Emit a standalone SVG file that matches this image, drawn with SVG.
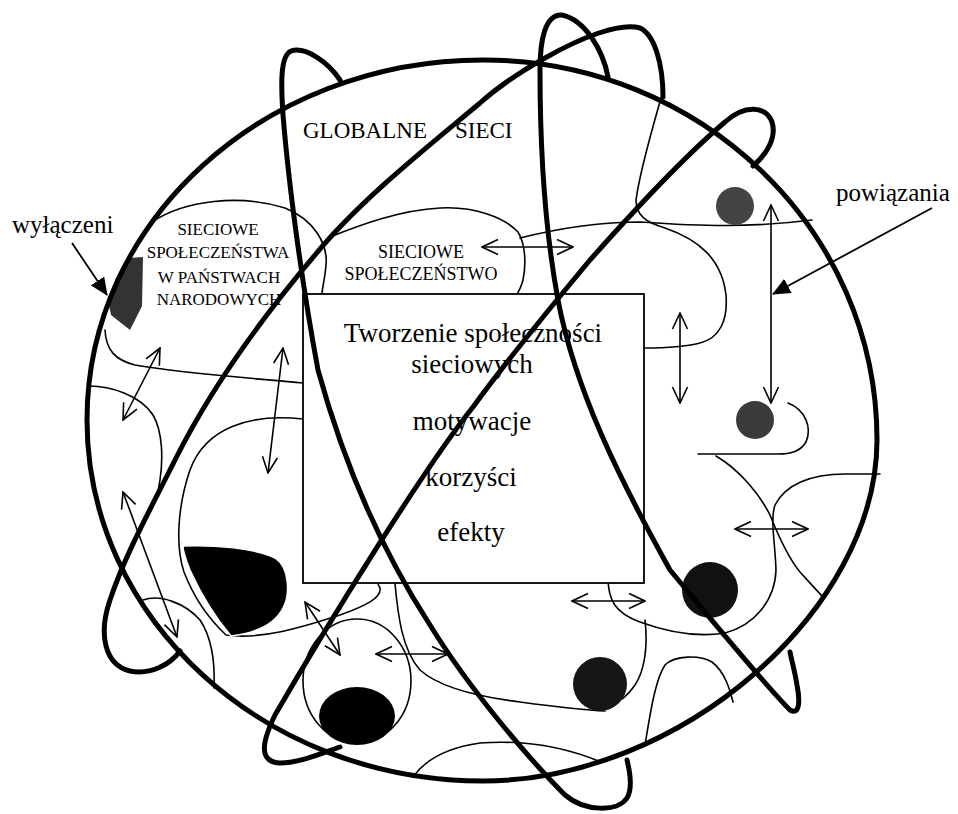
<svg xmlns="http://www.w3.org/2000/svg" width="958" height="814" viewBox="0 0 958 814">
<style>
.thin{fill:none;stroke:#000;stroke-width:1.6;stroke-linecap:round;stroke-linejoin:round}
.thick{fill:none;stroke:#000;stroke-width:5;stroke-linecap:round;stroke-linejoin:round}
.arr{fill:none;stroke:#000;stroke-width:1.6;marker-start:url(#oh);marker-end:url(#oh)}
.ptr{fill:none;stroke:#000;stroke-width:1.8;marker-end:url(#fh)}
.t{font-family:"Liberation Serif","Times New Roman",serif;fill:#000}
.big{font-size:27px;text-anchor:middle}
.s17{font-size:17px;text-anchor:middle}
.s18{font-size:18px;text-anchor:middle}
</style>
<defs>
<marker id="oh" viewBox="0 0 18 18" refX="17" refY="9" markerWidth="18" markerHeight="18" markerUnits="userSpaceOnUse" orient="auto-start-reverse">
<path d="M1,1.5 L17,9 L1,16.5" fill="none" stroke="#000" stroke-width="1.6"/>
</marker>
<marker id="fh" viewBox="0 0 18 16" refX="17" refY="8" markerWidth="18" markerHeight="16" markerUnits="userSpaceOnUse" orient="auto">
<path d="M0,0 L18,8 L0,16 Z" fill="#000"/>
</marker>
</defs>
<rect width="958" height="814" fill="#fff"/>

<g id="regions">
<path class="thin" d="M152,222 C185,200 240,194 285,208 C315,220 328,245 326,265 C325,280 322,288 322,294"/>
<path class="thin" d="M105,330 C106,350 115,360 135,365 C180,373 250,378 303,383"/>
<path class="thin" d="M330,237 C360,225 400,210 440,208 C475,206 505,218 518,232 C526,245 526,265 523,280 C521,287 519,291 517,294"/>
<path class="thin" d="M520,238 C560,228 600,222 640,222 C700,226 750,228 812,220"/>
<path class="thin" d="M661,98 C652,130 640,170 636,200 C636,215 645,222 665,228 C700,240 722,260 726,295 C728,320 720,338 700,343 C680,348 660,348 645,348"/>
<path class="thin" d="M89,386 C110,386 140,395 153,415 C163,432 163,460 160,480 C157,500 150,515 142,525"/>
<path class="thin" d="M303,419 C250,413 205,428 190,470 C178,505 175,545 184,572 C194,598 210,620 226,635 C260,640 300,628 340,615 C365,606 382,598 380,588 L378,584"/>
<path class="thin" d="M143,600 C160,594 185,603 200,620 C212,638 215,665 214,688"/>
<ellipse class="thin" cx="357" cy="681" rx="54" ry="62"/>
<path class="thin" d="M395,584 C398,615 402,650 420,670 C440,688 480,697 520,702 C550,706 580,710 605,711"/>
<path class="thin" d="M645,620 C648,645 645,670 635,685 C630,692 626,696 622,699"/>
<path class="thin" d="M645,745 C650,715 655,680 665,665 C675,655 700,655 712,662 C725,672 730,690 733,702"/>
<path class="thin" d="M413,777 C425,760 445,748 480,743 C520,740 560,745 601,762"/>
<path class="thin" d="M608,577 C608,600 615,613 640,622 C670,633 700,637 725,633 C755,625 775,600 776,570 C775,540 770,520 775,505 C785,485 810,474 845,474 L880,474"/>
<path class="thin" d="M716,456 C740,470 760,495 770,515 C780,540 790,560 800,572 C810,583 818,592 824,598"/>
<path class="thin" d="M788,403 C806,410 812,428 806,442 C800,452 790,454 778,454 L698,454"/>
</g>

<g id="blobs">
<path id="excluded" d="M128,258 L143,257 L142,306 L130,330 L111,315 L108,300 Q115,275 128,258 Z" fill="#333"/>
<circle cx="735" cy="206" r="19" fill="#444"/>
<circle cx="755" cy="420" r="19" fill="#3a3a3a"/>
<circle cx="710" cy="590" r="28" fill="#111"/>
<circle cx="600" cy="684" r="27" fill="#161616"/>
<ellipse cx="357" cy="716" rx="38" ry="29" fill="#000"/>
<path d="M183,546 C215,545 255,548 275,558 C290,568 290,595 283,608 C275,624 255,633 231,636 C216,618 200,592 190,570 C186,560 183,552 183,546 Z" fill="#000" stroke="#fff" stroke-width="1.5"/>
</g>

<g id="box">
<rect x="303" y="294" width="341" height="289" fill="#fff" stroke="#000" stroke-width="1.8"/>
<text class="t big" x="473" y="342">Tworzenie społeczności</text>
<text class="t big" x="472" y="373">sieciowych</text>
<text class="t big" x="472" y="430">motywacje</text>
<text class="t big" x="471" y="486">korzyści</text>
<text class="t big" x="471" y="541">efekty</text>
</g>

<g id="label-global">
<text class="t" font-size="23" x="303" y="138">GLOBALNE<tspan x="455">SIECI</tspan></text>
</g>
<g id="label-national">
<text class="t s17" x="218" y="235">SIECIOWE</text>
<text class="t s17" x="218" y="258">SPOŁECZEŃSTWA</text>
<text class="t s17" x="219" y="283">W PAŃSTWACH</text>
<text class="t s17" x="219" y="305">NARODOWYCH</text>
</g>
<g id="label-network">
<text class="t s18" x="421" y="258">SIECIOWE</text>
<text class="t s18" x="421" y="280">SPOŁECZEŃSTWO</text>
</g>
<g id="label-excluded">
<text class="t" font-size="25" x="12" y="233">wyłączeni</text>
</g>
<g id="label-links">
<text class="t" font-size="25" x="836" y="201">powiązania</text>
</g>

<g id="globe">
<path class="thick" d="M87,420 C87,221 264,60 483,60 C701,60 877,230 877,440 C877,610 680,781 483,781 C264,781 87,619 87,420 Z"/>
<path class="thick" d="M340,80 C328,62 305,46 291,51 C280,56 281,85 283,115 C290,200 305,300 318,370 C340,450 375,540 430,625 C470,690 530,760 565,795 C585,812 618,812 627,798 C633,788 630,772 627,760"/>
<path class="thick" d="M608,77 C603,50 585,20 562,15 C545,14 540,40 540,70 C540,150 545,230 558,300 C575,390 620,480 670,570 C720,630 765,685 790,710 C800,716 800,700 797,685 C795,672 792,662 790,652"/>
<path class="thick" d="M663,97 C663,65 655,35 640,28 C620,22 580,38 545,58 C520,72 500,85 480,103 C430,145 360,200 315,255 C260,320 210,390 175,460 C150,510 125,555 110,600 C98,635 105,665 130,671 C150,675 170,665 180,651"/>
<path class="thick" d="M753,166 C766,155 777,138 772,122 C766,106 745,104 725,122 C680,160 630,215 590,260 C540,320 500,370 473,407 C425,467 330,620 275,715 C262,742 258,762 280,763 C300,763 325,752 340,747"/>
</g>

<g id="connectors">
<line class="arr" x1="482" y1="247" x2="573" y2="247"/>
<line class="arr" x1="680" y1="313" x2="680" y2="403"/>
<line class="arr" x1="771" y1="205" x2="771" y2="403"/>
<line class="arr" x1="160" y1="348" x2="123" y2="420"/>
<line class="arr" x1="283" y1="348" x2="268" y2="473"/>
<line class="arr" x1="123" y1="492" x2="177" y2="637"/>
<line class="arr" x1="305" y1="602" x2="340" y2="655"/>
<line class="arr" x1="376" y1="654" x2="448" y2="654"/>
<line class="arr" x1="572" y1="601" x2="645" y2="601"/>
<line class="arr" x1="735" y1="529" x2="808" y2="529"/>
<line class="ptr" x1="72" y1="243" x2="107" y2="295"/>
<line class="ptr" x1="932" y1="208" x2="773" y2="294"/>
</g>
</svg>
